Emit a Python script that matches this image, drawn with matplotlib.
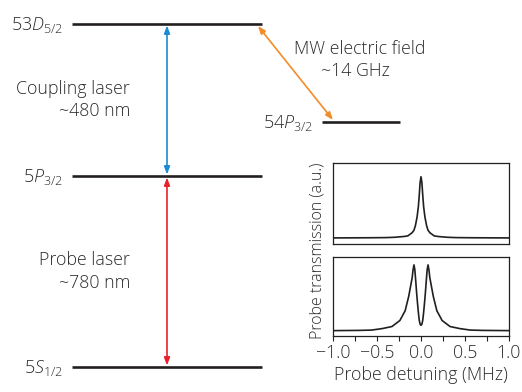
import numpy as np
import matplotlib
matplotlib.use('Agg')
import matplotlib.pyplot as plt
from matplotlib.ticker import FixedLocator

plt.rcParams['font.family'] = ['Open Sans', 'DejaVu Sans']
plt.rcParams['font.weight'] = 'light'
plt.rcParams['axes.labelweight'] = 'light'
plt.rcParams['mathtext.fontset'] = 'custom'
plt.rcParams['mathtext.rm'] = 'Open Sans:light'
plt.rcParams['mathtext.it'] = 'Open Sans:italic:light'
plt.rcParams['axes.unicode_minus'] = True

# energy levels (diagram position, label)
level_names = ['53$D_{5/2}$', '5$P_{3/2}$', '5$S_{1/2}$', '54$P_{3/2}$']
level_y = [24, 176, 367, 122]
level_x0 = [72, 72, 72, 322]
level_x1 = [262, 262, 262, 400]

# transitions: (from level, to level)
coupling = (0, 1)
probe = (1, 2)
mw = (0, 3)

# spectra (detuning MHz, transmission a.u.)
det_single = [-1.0, -0.6, -0.4, -0.3, -0.2, -0.15, -0.1, -0.08, -0.064, -0.045,
              -0.03, -0.02, -0.01, 0.0, 0.01, 0.02, 0.03, 0.045, 0.064, 0.08,
              0.1, 0.15, 0.2, 0.3, 0.4, 0.6, 1.0]
trans_single = [0.075, 0.077, 0.079, 0.083, 0.092, 0.10, 0.14, 0.17, 0.225, 0.33,
                0.46, 0.6, 0.76, 0.83, 0.76, 0.6, 0.46, 0.33, 0.225, 0.17,
                0.14, 0.10, 0.092, 0.083, 0.079, 0.077, 0.075]

det_split = [-1.0, -0.7, -0.56, -0.44, -0.33, -0.24, -0.18, -0.14, -0.12, -0.1,
             -0.09, -0.08, -0.07, -0.06, -0.05, -0.04, -0.03, -0.02, -0.01, 0.0,
             0.01, 0.02, 0.03, 0.04, 0.05, 0.06, 0.07, 0.08, 0.09, 0.1,
             0.12, 0.14, 0.18, 0.24, 0.33, 0.44, 0.56, 0.7, 1.0]
trans_split = [0.068, 0.071, 0.075, 0.094, 0.12, 0.196, 0.32, 0.5, 0.62, 0.74,
               0.84, 0.90, 0.84, 0.70, 0.55, 0.42, 0.3, 0.2, 0.15, 0.135,
               0.15, 0.2, 0.3, 0.42, 0.55, 0.70, 0.84, 0.90, 0.84, 0.74,
               0.62, 0.5, 0.32, 0.196, 0.12, 0.094, 0.075, 0.071, 0.068]

major_ticks = [-1.0, -0.5, 0.0, 0.5, 1.0]
minor_ticks = [-0.75, -0.25, 0.25, 0.75]
tick_labels = ['−1.0', '−0.5', '0.0', '0.5', '1.0']

W, H = 522, 392
fig = plt.figure(figsize=(W / 100, H / 100), dpi=100)
ax = fig.add_axes([0, 0, 1, 1])
ax.set_xlim(0, W)
ax.set_ylim(H, 0)
ax.axis('off')

dark = '#231f20'
txt = '#2c2c2c'
fs = 12.8

for name, y, x0, x1 in zip(level_names, level_y, level_x0, level_x1):
    ax.plot([x0, x1], [y, y], color=dark, lw=1.9, solid_capstyle='butt')
    ax.text(x0 - 9, y + 1, name, ha='right', va='center', fontsize=13, color=txt)


def arrow(p0, p1, color):
    ax.annotate('', xy=p1, xytext=p0,
                arrowprops=dict(arrowstyle='<|-|>,head_length=0.45,head_width=0.17',
                                color=color, lw=1.2, shrinkA=0, shrinkB=0))


xa = 167
arrow((xa, level_y[coupling[0]] + 1.5), (xa, level_y[coupling[1]] - 1.5), '#1b8bd6')
arrow((xa, level_y[probe[0]] + 1.5), (xa, level_y[probe[1]] - 1.5), '#e8202a')
arrow((level_x1[mw[0]] - 4, level_y[mw[0]] + 2), (level_x0[mw[1]] + 11, level_y[mw[1]] - 2), '#f28c28')

ax.text(130, 89, 'Coupling laser', ha='right', va='center', fontsize=fs, color=txt)
ax.text(130, 111, '~480 nm', ha='right', va='center', fontsize=fs, color=txt)
ax.text(130, 260, 'Probe laser', ha='right', va='center', fontsize=fs, color=txt)
ax.text(130, 283, '~780 nm', ha='right', va='center', fontsize=fs, color=txt)
ax.text(360, 49, 'MW electric field', ha='center', va='center', fontsize=fs, color=txt)
ax.text(355, 71, '~14 GHz', ha='center', va='center', fontsize=fs, color=txt)

# insets
left = 333 / W
width = 176 / W
ax1 = fig.add_axes([left, 1 - 244 / H, width, 81 / H])
ax2 = fig.add_axes([left, 1 - 336 / H, width, 79 / H])

for a, d, t in [(ax1, det_single, trans_single), (ax2, det_split, trans_split)]:
    a.plot(d, t, color=dark, lw=1.2)
    a.set_xlim(-1, 1)
    a.set_ylim(0, 1)
    a.set_yticks([])
    for s in a.spines.values():
        s.set_linewidth(0.9)
        s.set_color(dark)

ax1.set_xticks([])
ax2.xaxis.set_major_locator(FixedLocator(major_ticks))
ax2.xaxis.set_minor_locator(FixedLocator(minor_ticks))
ax2.set_xticklabels(tick_labels)
ax2.tick_params(axis='x', which='both', direction='out', length=3.5, width=0.8,
                labelsize=12.8, pad=2, colors=dark, labelcolor=txt)
ax2.set_xlabel('Probe detuning (MHz)', fontsize=12.8, color=txt, labelpad=3,
               fontweight='light')

fig.text(318 / W, 1 - 251 / H, 'Probe transmission (a.u.)', rotation=90,
         ha='center', va='center', fontsize=11.5, color=txt)

fig.savefig('out.png', dpi=100)
